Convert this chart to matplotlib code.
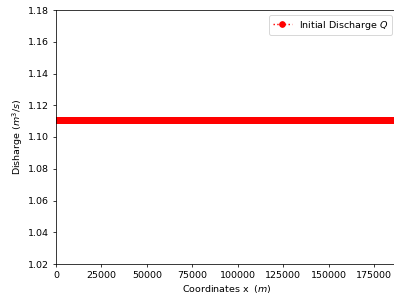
import numpy as np
import matplotlib
matplotlib.use('Agg')
import matplotlib.pyplot as plt

# grid coordinates (m) and initial discharge
x_coords = np.arange(0, 187501, 250)
q_initial = 1.111
discharge = np.full(len(x_coords), q_initial)

fig = plt.figure(figsize=(394 / 68, 299 / 68), dpi=68)
ax = fig.add_axes([56 / 394, 35 / 299, 341 / 394, 254 / 299])

ax.plot(x_coords, discharge, ':', color='red', marker='o',
        label='Initial Discharge $Q$')

ax.set_xlim(0, 187500)
ax.set_ylim(1.02, 1.18)
ax.set_xticks([0, 25000, 50000, 75000, 100000, 125000, 150000, 175000])
ax.set_yticks(np.arange(1.02, 1.181, 0.02))
ax.set_xlabel('Coordinates x  $(m)$')
ax.set_ylabel('Disharge $(m^3/s)$')
ax.legend(loc='upper right')

fig.savefig('out.png', dpi=68)
